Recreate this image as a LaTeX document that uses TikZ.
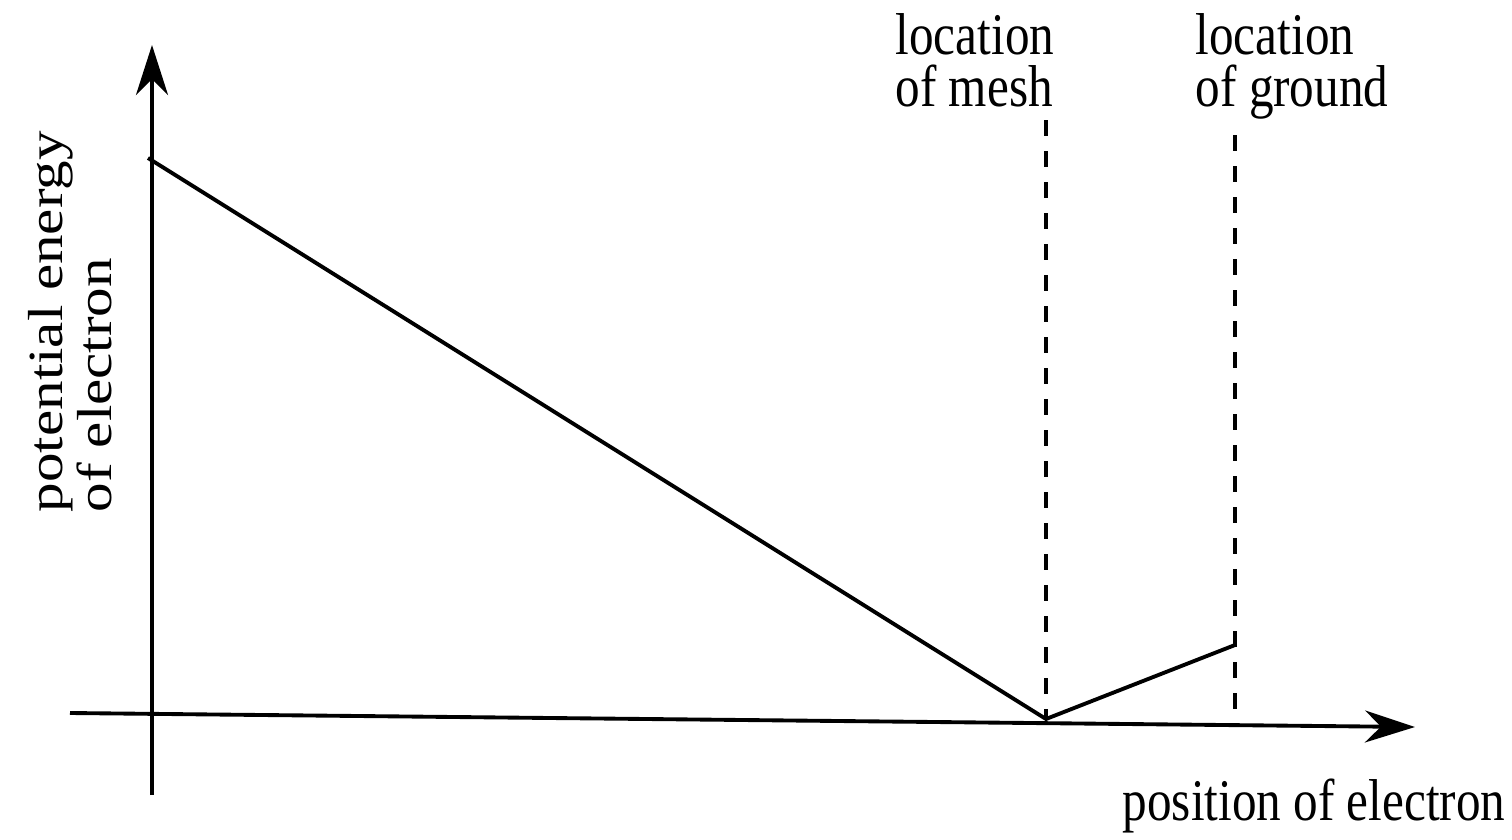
\documentclass[tikz,border=0pt]{standalone}
\usepackage{fontspec}
\setmainfont{Liberation Serif}
\usetikzlibrary{arrows.meta}
\begin{document}
\begin{tikzpicture}[
    axis/.style={line width=1.1pt, -{Stealth[length=5mm, width=3.2mm, inset=1.6mm]}},
    curve/.style={line width=1.1pt},
    guide/.style={line width=1.1pt, dash pattern=on 1.6mm off 1.5mm},
    lbl/.style={font=\fontsize{14}{12.3}\selectfont, yscale=1.2, inner sep=0pt, align=left}
  ]
  \useasboundingbox (0,0) rectangle (15.12,8.39);

  %%axes
  \coordinate (xstart) at (0.70, 1.26);
  \coordinate (xend) at (14.15, 1.12);
  \coordinate (ystart) at (1.52, 0.44);
  \coordinate (yend) at (1.52, 7.94);
    \draw[axis](xstart) to (xend);
    \draw[axis](ystart) to (yend);

  %%energy
  \coordinate (start) at (1.48, 6.81);
  \coordinate (mesh) at (10.46, 1.20);
  \coordinate (ground) at (12.35, 1.94);
    \draw[curve](start) to (mesh) to (ground);

  %%mesh and ground
  \coordinate (meshtop) at (10.46, 7.19);
  \coordinate (groundtop) at (12.35, 7.04);
  \coordinate (groundbot) at (12.35, 1.17);
    \draw[guide](meshtop) to (mesh);
    \draw[guide](groundtop) to (groundbot);

  %%labels
  \node[lbl, anchor=north west] (meshlbl) at (8.95, 8.26){location\\of mesh};
  \node[lbl, anchor=north west] (groundlbl) at (11.95, 8.26){location\\of ground};
  \node[lbl, anchor=base west] (xlbl) at (11.22, 0.19){position of electron};
  \node[lbl, rotate=90, anchor=north west] (ylbl) at (0.28, 3.26){potential energy\\of electron};

\end{tikzpicture}
\end{document}
